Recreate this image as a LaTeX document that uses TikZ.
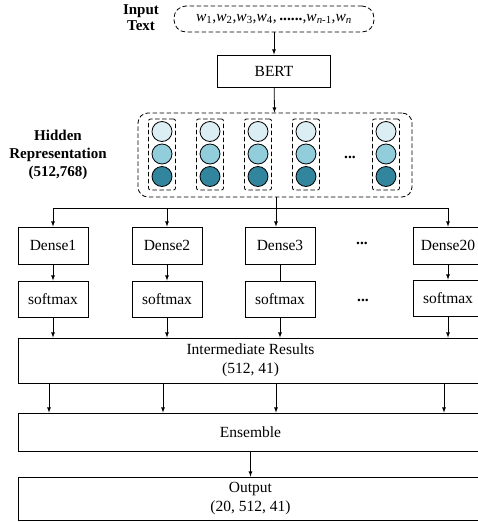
\documentclass[tikz,border=0pt]{standalone}
\usepackage{fontspec}
\setmainfont{Liberation Serif}
\usepackage{tikz}
\usetikzlibrary{positioning,arrows,shapes}
\definecolor{cellA}{HTML}{DAEEF3}
\definecolor{cellB}{HTML}{92CDDC}
\definecolor{cellC}{HTML}{31859C}
\tikzstyle{block}=[draw, minimum width=70pt, minimum height=37pt, inner sep=0pt]
\tikzstyle{wide}=[draw, minimum width=465pt, align=center, inner sep=0pt]
\tikzstyle{group}=[draw, dash pattern=on 4.5pt off 2.5pt, rounded corners=10pt, inner sep=0pt]
\tikzstyle{column}=[draw, dash pattern=on 4.5pt off 2.5pt, rounded corners=2pt, minimum width=27pt, minimum height=71pt, inner sep=0pt]
\tikzstyle{cell}=[circle, draw, minimum size=20pt, inner sep=0pt]
\tikzstyle{tag}=[font=\fontsize{15}{16}\selectfont\bfseries, align=center]
\newcommand{\wsub}[1]{\textit{w}\textsubscript{#1}}

\begin{document}
\begin{tikzpicture}[x=1pt, y=-1pt, >=latex, line width=0.8pt, font=\fontsize{15.5}{19}\selectfont]
	\clip (0,0) rectangle (478,522);
	\node[tag] (intag) at (141,18) {Input\\Text};
	\node[group, rounded corners=12pt, minimum width=200pt, minimum height=26pt] (input) at (274,19) {\wsub{1},\wsub{2},\wsub{3},\wsub{4},\,\raisebox{1pt}{\textbf{......}},\wsub{\textit{n}-1},\wsub{\textit{n}}};
	\node[block, minimum width=113pt, minimum height=32pt] (bert) at (274,71) {BERT};
	\node[group, minimum width=274pt, minimum height=84pt] (hidden) at (275,155) {};
	\node[tag, font=\fontsize{15}{18}\selectfont\bfseries] (hidtag) at (58,155) {Hidden\\Representation\\(512,768)};
	\foreach \x [count=\i] in {162,210,258,306,386} {
		\node[column] (col\i) at (\x,154.5) {};
		\node[cell, fill=cellA] (a\i) at (\x,131.5) {};
		\node[cell, fill=cellB] (b\i) at (\x,154) {};
		\node[cell, fill=cellC] (c\i) at (\x,176.5) {};
	}
	\node (hdots) at (350,157) {\textbf{...}};
	\coordinate (split) at (276,208);
	\node[block] (d1) at (53,245.5) {Dense1};
	\node[block] (d2) at (167,245.5) {Dense2};
	\node[block] (d3) at (280,245.5) {Dense3};
	\node[block] (d20) at (448,245.5) {Dense20};
	\node (ddots) at (362,243) {\textbf{...}};
	\node[block, minimum height=36pt] (s1) at (53,299) {softmax};
	\node[block, minimum height=36pt] (s2) at (167,299) {softmax};
	\node[block, minimum height=36pt] (s3) at (280,299) {softmax};
	\node[block, minimum height=36pt] (s20) at (448,298) {softmax};
	\node (sdots) at (363,300) {\textbf{...}};
	\node[wide, minimum height=45pt] (inter) at (250.5,360.5) {Intermediate Results\\(512, 41)};
	\node[wide, minimum height=38pt] (ens) at (250.5,432) {Ensemble};
	\node[wide, minimum height=43pt] (out) at (250.5,498.5) {Output\\(20, 512, 41)};
	\path[->] (input) edge (bert);
	\path[->] (bert) edge (hidden);
	\draw (hidden.south -| split) -- (split);
	\draw (split -| d1) -- (split -| d20);
	\foreach \n in {1,2,20} {
		\path[->] (split -| d\n) edge (d\n);
		\path[->] (d\n) edge (s\n);
	}
	\path[->] (split) edge (split |- d3.north);
	\draw (d3) -- (s3);
	\foreach \n in {1,2,3,20} {
		\path[->] (s\n) edge (s\n |- inter.north);
		\path[->] ([xshift=-4pt]inter.south -| s\n) edge ([xshift=-4pt]ens.north -| s\n);
	}
	\path[->] (ens) edge (out);
\end{tikzpicture}
\end{document}
